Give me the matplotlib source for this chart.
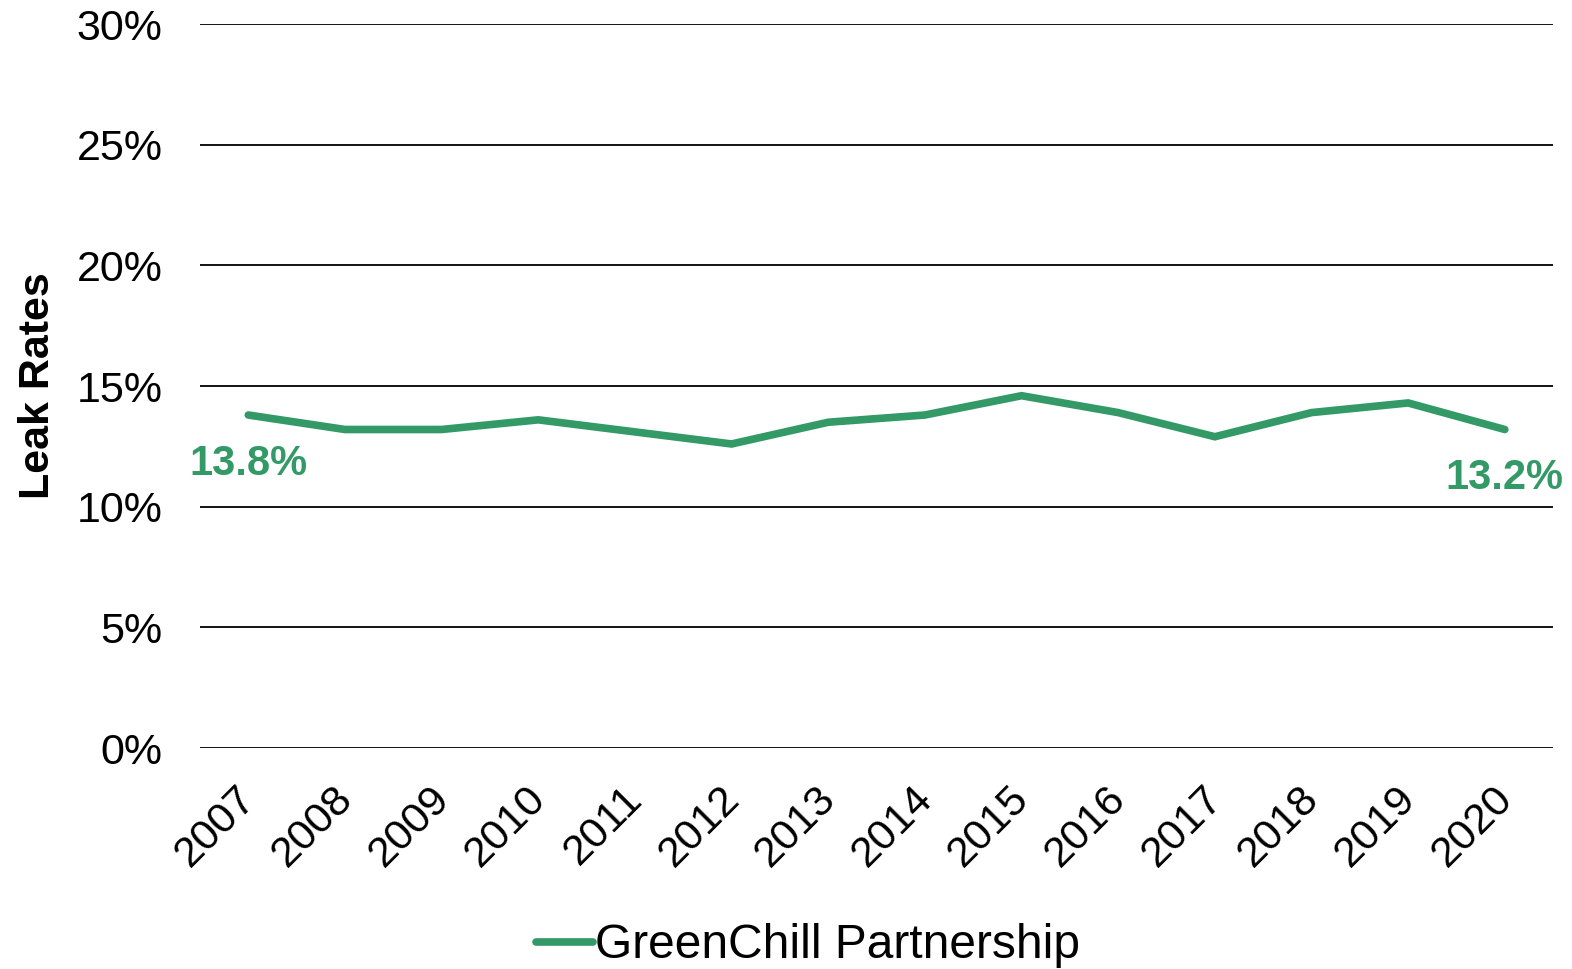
import matplotlib
matplotlib.use('Agg')
import matplotlib.pyplot as plt
import matplotlib.transforms as mtransforms
from matplotlib.ticker import FuncFormatter

plt.rcParams['font.family'] = ['Liberation Sans', 'DejaVu Sans']

years = ['2007', '2008', '2009', '2010', '2011', '2012', '2013',
         '2014', '2015', '2016', '2017', '2018', '2019', '2020']
leak_rates = [13.8, 13.2, 13.2, 13.6, 13.1, 12.6, 13.5,
              13.8, 14.6, 13.9, 12.9, 13.9, 14.3, 13.2]
series_name = 'GreenChill Partnership'
green = '#339966'

fig = plt.figure(figsize=(15.72, 9.69), dpi=100)
ax = fig.add_axes([0.1272, 0.228, 0.8608, 0.7472])

x = list(range(len(years)))
ax.plot(x, leak_rates, color=green, lw=5.5, solid_capstyle='round',
        solid_joinstyle='miter', label=series_name, zorder=3)

# value labels at the first and last year
for i in (0, len(years) - 1):
    ax.annotate('%.1f%%' % leak_rates[i], (x[i], leak_rates[i]),
                xytext=(0, -35), textcoords='offset points',
                ha='center', va='center', fontsize=30, fontweight='bold',
                color=green)

ax.set_xlim(-0.5, len(years) - 0.5)
ax.set_ylim(0, 30)
ax.set_yticks(range(0, 31, 5))
ax.yaxis.set_major_formatter(FuncFormatter(lambda v, p: '%d%%' % v))
ax.set_xticks(x)
ax.set_xticklabels(years, rotation=45, ha='right', rotation_mode='anchor')
ax.tick_params(axis='both', length=0, labelsize=31)
ax.tick_params(axis='y', pad=27)
ax.tick_params(axis='x', pad=22)

shift = mtransforms.ScaledTranslation(-9 / 72, 0, fig.dpi_scale_trans)
for lbl in ax.get_xticklabels():
    lbl.set_transform(lbl.get_transform() + shift)

ax.grid(axis='y', color='black', lw=1.3)
ax.set_axisbelow(True)
for s in ax.spines.values():
    s.set_visible(False)

ax.set_ylabel('Leak Rates', fontsize=31, fontweight='bold')
ax.yaxis.set_label_coords(-0.105, 0.5)

leg = fig.legend(loc='center', bbox_to_anchor=(808 / 1572, 1 - 946 / 969),
                 frameon=False, fontsize=34.5, handlelength=1.19,
                 handletextpad=0.06)
for h in leg.get_lines():
    h.set_solid_capstyle('round')

fig.savefig('out.png', dpi=100)
